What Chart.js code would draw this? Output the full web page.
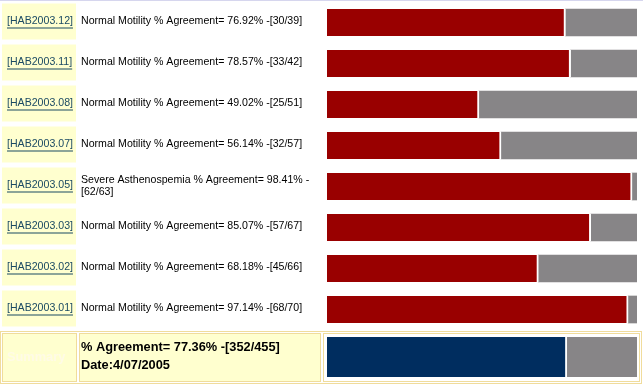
<!DOCTYPE html>
<html>
<head>
<meta charset="utf-8">
<script src="https://cdn.jsdelivr.net/npm/chart.js@4/dist/chart.umd.min.js"></script>
<style>
  body { margin: 0; background: #fff; width: 643px; height: 384px; overflow: hidden; position: relative; }
  #topline { position: absolute; left: 0; top: 0; width: 643px; height: 1px; background: #d6d6ee; }
  #rows { position: absolute; left: 0; top: 0; }
  #summary { position: absolute; left: 0; top: 330px; }
</style>
</head>
<body>
<div id="topline"></div>
<canvas id="rows" width="643" height="330"></canvas>
<canvas id="summary" width="643" height="54"></canvas>
<script>
const codes = ["[HAB2003.12]", "[HAB2003.11]", "[HAB2003.08]", "[HAB2003.07]", "[HAB2003.05]", "[HAB2003.03]", "[HAB2003.02]", "[HAB2003.01]"];
const measures = ["Normal Motility", "Normal Motility", "Normal Motility", "Normal Motility", "Severe Asthenospemia", "Normal Motility", "Normal Motility", "Normal Motility"];
const agreed = [30, 33, 25, 32, 62, 57, 45, 68];
const totals = [39, 42, 51, 57, 63, 67, 66, 70];
const summaryAgreed = 352;
const summaryTotal = 455;
const summaryDate = "4/07/2005";

const pct = (a, t) => a / t * 100;
const agreePct = agreed.map((a, i) => pct(a, totals[i]));
const restPct = agreePct.map(p => 100 - p);

const FONT = "'Liberation Sans', Arial, sans-serif";

// yellow cells + texts for the row table
const rowCells = {
  id: "rowCells",
  beforeDraw(chart) {
    const { ctx, scales: { y } } = chart;
    ctx.save();
    codes.forEach((c, i) => {
      const yc = y.getPixelForValue(i);
      ctx.fillStyle = "#ffffcf";
      ctx.fillRect(2, yc - 19, 74, 36);
    });
    ctx.restore();
  },
  afterDraw(chart) {
    const { ctx, scales: { y } } = chart;
    ctx.save();
    ctx.textBaseline = "middle";
    ctx.font = "10.6px " + FONT;
    codes.forEach((c, i) => {
      const yc = y.getPixelForValue(i) - 1;
      ctx.fillStyle = "#1b4a63";
      ctx.fillText(c, 7, yc);
      const w = ctx.measureText(c).width;
      ctx.fillRect(7, yc + 6, w, 1);
      ctx.fillStyle = "#000";
      const head = measures[i] + " % Agreement= " + agreePct[i].toFixed(2) + "% -";
      const tail = "[" + agreed[i] + "/" + totals[i] + "]";
      if (ctx.measureText(head + tail).width > 232) {
        ctx.fillText(head, 81, yc - 5);
        ctx.fillText(tail, 81, yc + 7);
      } else {
        ctx.fillText(head + tail, 81, yc);
      }
    });
    ctx.restore();
  }
};

new Chart(document.getElementById("rows"), {
  type: "bar",
  data: {
    labels: codes,
    datasets: [
      { data: agreePct, backgroundColor: "#990000", borderColor: "#ffffff", borderWidth: { right: 2 }, borderSkipped: false, barThickness: 27 },
      { data: restPct, backgroundColor: "#878587", borderWidth: 0, barThickness: 27 }
    ]
  },
  options: {
    indexAxis: "y",
    responsive: false,
    animation: false,
    layout: { padding: { left: 327, right: 6, top: 2, bottom: 0 } },
    plugins: { legend: { display: false }, tooltip: { enabled: false } },
    scales: {
      x: { stacked: true, min: 0, max: 100, display: false },
      y: { stacked: true, display: false }
    }
  },
  plugins: [rowCells]
});

// summary frame, cells and texts
const summaryCells = {
  id: "summaryCells",
  beforeDraw(chart) {
    const { ctx } = chart;
    ctx.save();
    ctx.strokeStyle = "#f0dc9c";
    ctx.lineWidth = 1;
    ctx.strokeRect(0.5, 1.5, 641, 52);
    ctx.fillStyle = "#ffffcf";
    ctx.fillRect(2, 3, 75, 49);
    ctx.fillRect(79, 3, 242, 49);
    ctx.strokeRect(2.5, 3.5, 74, 48);
    ctx.strokeRect(79.5, 3.5, 241, 48);
    ctx.strokeRect(323.5, 3.5, 316, 48);
    ctx.restore();
  },
  afterDraw(chart) {
    const { ctx } = chart;
    ctx.save();
    ctx.textBaseline = "middle";
    ctx.font = "bold 12.8px " + FONT;
    ctx.fillStyle = "#fffbe6";
    ctx.fillText("Summary", 7, 27);
    ctx.fillStyle = "#000";
    const p = pct(summaryAgreed, summaryTotal).toFixed(2);
    ctx.fillText("% Agreement= " + p + "% -[" + summaryAgreed + "/" + summaryTotal + "]", 81, 17);
    ctx.fillText("Date:" + summaryDate, 81, 35);
    ctx.restore();
  }
};

const sumPct = pct(summaryAgreed, summaryTotal);
new Chart(document.getElementById("summary"), {
  type: "bar",
  data: {
    labels: ["Summary"],
    datasets: [
      { data: [sumPct], backgroundColor: "#002d5f", borderColor: "#ffffff", borderWidth: { right: 2 }, borderSkipped: false, barPercentage: 1, categoryPercentage: 1 },
      { data: [100 - sumPct], backgroundColor: "#878587", borderWidth: 0, barPercentage: 1, categoryPercentage: 1 }
    ]
  },
  options: {
    indexAxis: "y",
    responsive: false,
    animation: false,
    layout: { padding: { left: 327, right: 6, top: 7, bottom: 7 } },
    plugins: { legend: { display: false }, tooltip: { enabled: false } },
    scales: {
      x: { stacked: true, min: 0, max: 100, display: false },
      y: { stacked: true, display: false }
    }
  },
  plugins: [summaryCells]
});
</script>
</body>
</html>
